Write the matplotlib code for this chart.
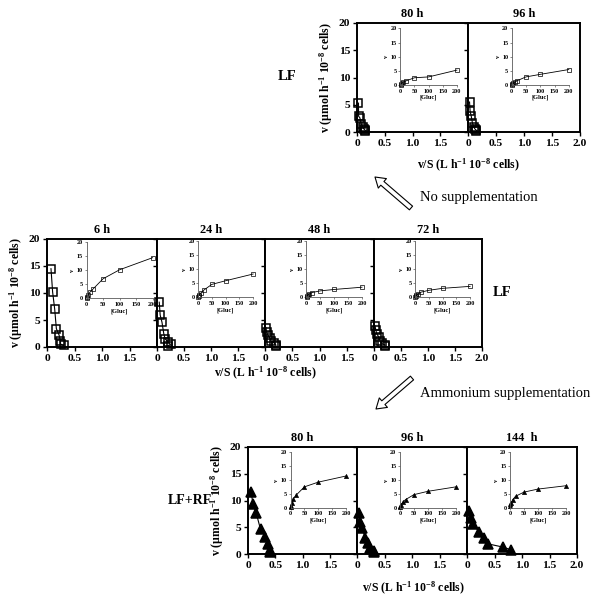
import numpy as np
import matplotlib.pyplot as plt
from matplotlib.patches import FancyArrowPatch

plt.rcParams['font.family'] = ['Liberation Serif', 'DejaVu Serif']
plt.rcParams['mathtext.fontset'] = 'custom'
plt.rcParams['mathtext.rm'] = 'Liberation Serif:bold'
plt.rcParams['mathtext.default'] = 'rm'

# glucose concentrations of the kinetic assay
gluc = np.array([1, 2, 5, 10, 20, 50, 100, 200])

# uptake rates v for each culture time (same order as gluc)
# LF, no supplementation
v_lf_80 = [0.15, 0.3, 0.6, 1.0, 1.5, 2.6, 2.9, 5.3]
v_lf_96 = [0.15, 0.3, 0.6, 1.0, 1.6, 2.9, 3.8, 5.5]
# LF, first days
v_lf_6 = [0.3, 0.5, 1.2, 2.2, 3.4, 7.0, 10.2, 14.5]
v_lf_24 = [0.2, 0.5, 1.0, 1.5, 2.5, 4.6, 5.9, 8.3]
v_lf_48 = [0.2, 0.4, 0.8, 1.1, 1.7, 2.3, 2.8, 3.6]
v_lf_72 = [0.2, 0.4, 0.7, 1.1, 1.8, 2.5, 3.2, 3.9]
# LF+RF, ammonium supplementation
v_rf_80 = [0.4, 0.8, 1.8, 3.2, 4.6, 7.6, 9.3, 11.5]
v_rf_96 = [0.3, 0.6, 1.2, 2.0, 3.0, 4.8, 6.0, 7.6]
v_rf_144 = [0.8, 1.3, 1.9, 3.0, 4.2, 5.7, 6.8, 8.0]

top_titles = ['80 h', '96 h']
mid_titles = ['6 h', '24 h', '48 h', '72 h']
bot_titles = ['80 h', '96 h', '144  h']

W, H = 600, 607
ylab = 'v (µmol h$^{-1}$ 10$^{-8}$ cells)'
xlab = 'v/S (L h$^{-1}$ 10$^{-8}$ cells)'


def draw_row(fig, edges, ytop, ybot, titles, series, marker, fill, insets):
    for i, (title, v) in enumerate(zip(titles, series)):
        x0, x1 = edges[i], edges[i + 1]
        ax = fig.add_axes([x0 / W, 1 - ybot / H, (x1 - x0) / W, (ybot - ytop) / H])
        v = np.asarray(v, float)
        ms = 6.5 if marker == '^' else 6
        ax.plot(v / gluc, v, color='black', lw=0.8, marker=marker, ms=ms,
                mfc=fill, mec='black', mew=1.1, clip_on=False, zorder=3)
        ax.set_xlim(0, 2)
        ax.set_ylim(0, 20)
        last = i == len(titles) - 1
        xt = [0, 0.5, 1.0, 1.5, 2.0] if last else [0, 0.5, 1.0, 1.5]
        ax.set_xticks(xt, ['0', '0.5', '1.0', '1.5', '2.0'][:len(xt)])
        ax.set_yticks([0, 5, 10, 15, 20])
        if i == 0:
            ax.set_yticklabels(['0', '5', '10', '15', '20'])
            ax.set_ylabel(ylab, fontsize=8.5, fontweight='bold')
            ax.yaxis.set_label_coords(-22 / (x1 - x0), 0.5)
        else:
            ax.set_yticklabels([])
        ax.tick_params(direction='out', length=3, width=1, labelsize=8.2, pad=2)
        for t in ax.get_xticklabels() + ax.get_yticklabels():
            t.set_fontweight('bold')
        for s in ax.spines.values():
            s.set_linewidth(1.4)
        ax.set_title(title, fontsize=8.8, fontweight='bold', pad=4)

        # Michaelis-Menten inset
        ins = ax.inset_axes(insets[i])
        ins.set_facecolor('none')
        ins.plot(gluc, v, color='black', lw=0.6, marker=marker, ms=3,
                 mfc=fill, mec='black', mew=0.5, clip_on=False)
        ins.set_xlim(0, 200)
        ins.set_ylim(0, 20)
        ins.set_xticks([0, 50, 100, 150, 200])
        ins.set_yticks([0, 5, 10, 15, 20])
        for side in ['top', 'right']:
            ins.spines[side].set_visible(False)
        for side in ['left', 'bottom']:
            ins.spines[side].set_linewidth(0.6)
            ins.spines[side].set_color('0.35')
        ins.tick_params(length=1.5, width=0.5, labelsize=4.4, pad=1, color='0.35')
        for t in ins.get_xticklabels() + ins.get_yticklabels():
            t.set_fontweight('bold')
        ins.set_xlabel('[Gluc]', fontsize=4.6, fontweight='bold', labelpad=1)
        ins.set_ylabel('v', fontsize=4.6, fontweight='bold', labelpad=1)


fig = plt.figure(figsize=(6.0, 6.07), dpi=100)

box = [0.39, 0.43, 0.51, 0.52]
draw_row(fig, [357, 468, 580], 23, 132, top_titles, [v_lf_80, v_lf_96],
         's', 'none', [box, box])
draw_row(fig, [47, 157, 265, 374, 482], 239, 347, mid_titles,
         [v_lf_6, v_lf_24, v_lf_48, v_lf_72], 's', 'none',
         [[0.36, 0.45, 0.60, 0.52], [0.38, 0.46, 0.51, 0.52],
          [0.38, 0.46, 0.51, 0.52], [0.38, 0.46, 0.51, 0.52]])
draw_row(fig, [248, 357, 467, 577], 447, 554, bot_titles,
         [v_rf_80, v_rf_96, v_rf_144], '^', 'black', [box, box, box])

# x labels of each row
fig.text(468 / W, 1 - 165 / H, xlab, ha='center', va='center', fontsize=8.5, fontweight='bold')
fig.text(265 / W, 1 - 373 / H, xlab, ha='center', va='center', fontsize=8.5, fontweight='bold')
fig.text(413 / W, 1 - 588 / H, xlab, ha='center', va='center', fontsize=8.5, fontweight='bold')

# condition labels
fig.text(287 / W, 1 - 77 / H, 'LF', ha='center', va='center', fontsize=10.5, fontweight='bold')
fig.text(502 / W, 1 - 292 / H, 'LF', ha='center', va='center', fontsize=10.5, fontweight='bold')
fig.text(190 / W, 1 - 500 / H, 'LF+RF', ha='center', va='center', fontsize=10, fontweight='bold')

# hollow arrows between rows
for tail, head in [((411, 208), (375, 177)), ((412, 378), (376, 409))]:
    arr = FancyArrowPatch((tail[0] / W, 1 - tail[1] / H), (head[0] / W, 1 - head[1] / H),
                          transform=fig.transFigure, mutation_scale=1,
                          arrowstyle='simple,head_width=9,head_length=7,tail_width=3.5',
                          fc='white', ec='black', lw=0.8, shrinkA=0, shrinkB=0)
    fig.add_artist(arr)
fig.text(420 / W, 1 - 197 / H, 'No supplementation', ha='left', va='center', fontsize=10.5)
fig.text(420 / W, 1 - 393 / H, 'Ammonium supplementation', ha='left', va='center', fontsize=10.5)

fig.savefig('out.png', dpi=100)
